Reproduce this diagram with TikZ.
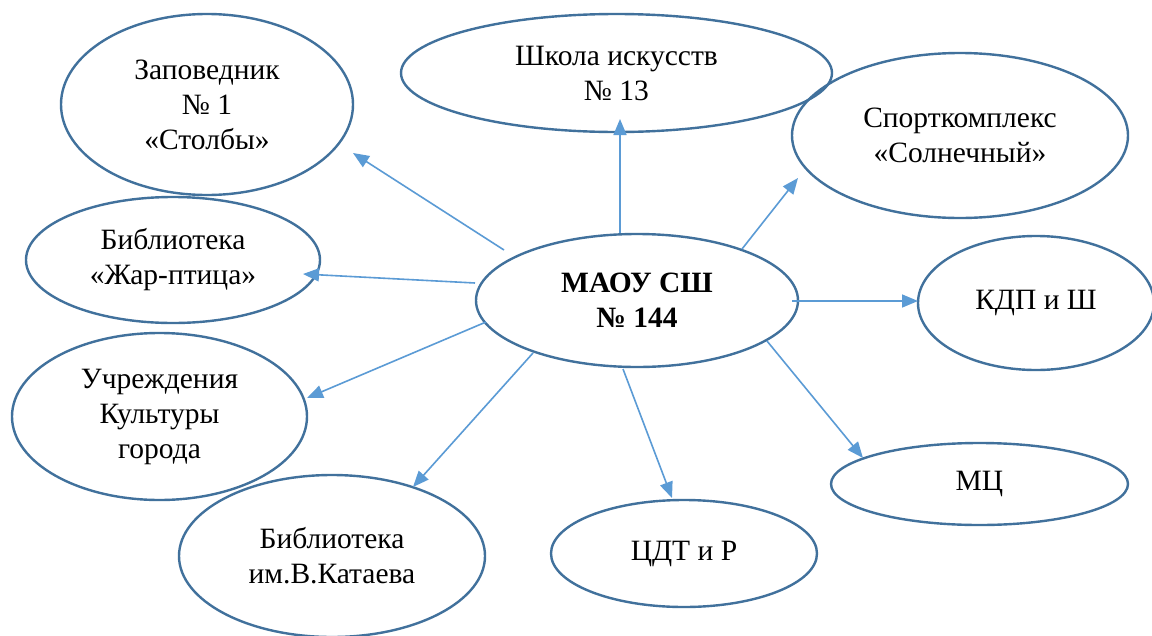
\documentclass[tikz,border=0pt]{standalone}
\usepackage{fontspec}
\setmainfont{Liberation Serif}
\usetikzlibrary{shapes.geometric,arrows.meta}
\definecolor{ell}{HTML}{41719C}
\definecolor{arr}{HTML}{5B9BD5}
\tikzset{
  bub/.style={ellipse, draw=ell, line width=2.4pt, inner sep=0pt, align=center,
    font=\fontsize{29.5}{35}\selectfont},
  link/.style={draw=arr, line width=1.6pt, -{Triangle[length=16pt,width=13pt]}}
}
\begin{document}
\begin{tikzpicture}[x=1pt,y=-1pt]
\useasboundingbox (0,0) rectangle (1152,635);
\fill[white] (0,0) rectangle (1152,635);

\node[bub, minimum width=292, minimum height=181] (zap) at (207,104.5) {Заповедник\\№ 1\\«Столбы»};
\node[bub, minimum width=431, minimum height=118] (shk) at (616.5,73) {Школа искусств\\№ 13};
\node[bub, minimum width=336, minimum height=165] (spo) at (960,135.5) {Спорткомплекс\\«Солнечный»};
\node[bub, minimum width=294, minimum height=126] (zhp) at (173,260) {Библиотека\\«Жар-птица»};
\node[bub, minimum width=322, minimum height=133, font=\fontsize{29.5}{35}\selectfont\bfseries] (c) at (637,300.5) {МАОУ СШ\\№ 144};
\node[bub, minimum width=236, minimum height=134] (kdp) at (1036,303) {КДП и Ш};
\node[bub, minimum width=295, minimum height=167] (uch) at (159.5,416.5) {Учреждения\\Культуры\\города};
\node[bub, minimum width=297, minimum height=82] (mc) at (979.5,484) {МЦ};
\node[bub, minimum width=306, minimum height=162] (kat) at (332,556) {Библиотека\\им.В.Катаева};
\node[bub, minimum width=266, minimum height=107] (cdt) at (684,553.5) {ЦДТ и Р};

\coordinate (s1) at (504,250); \coordinate (t1) at (353,153);
\coordinate (s2) at (475,283); \coordinate (t2) at (303,274);
\coordinate (s3) at (486,322); \coordinate (t3) at (307,398);
\coordinate (s4) at (533,353); \coordinate (t4) at (413,487);
\coordinate (s5) at (623,369); \coordinate (t5) at (672,498);
\coordinate (s6) at (767,341); \coordinate (t6) at (863,458);
\coordinate (s7) at (792,301); \coordinate (t7) at (918,301);
\coordinate (s8) at (742,249); \coordinate (t8) at (798,178);
\coordinate (s9) at (620,233); \coordinate (t9) at (620,119);

\draw[link] (s1) -- (t1);
\draw[link] (s2) -- (t2);
\draw[link] (s3) -- (t3);
\draw[link] (s4) -- (t4);
\draw[link] (s5) -- (t5);
\draw[link] (s6) -- (t6);
\draw[link] (s7) -- (t7);
\draw[link] (s8) -- (t8);
\draw[link] (s9) -- (t9);
\end{tikzpicture}
\end{document}
